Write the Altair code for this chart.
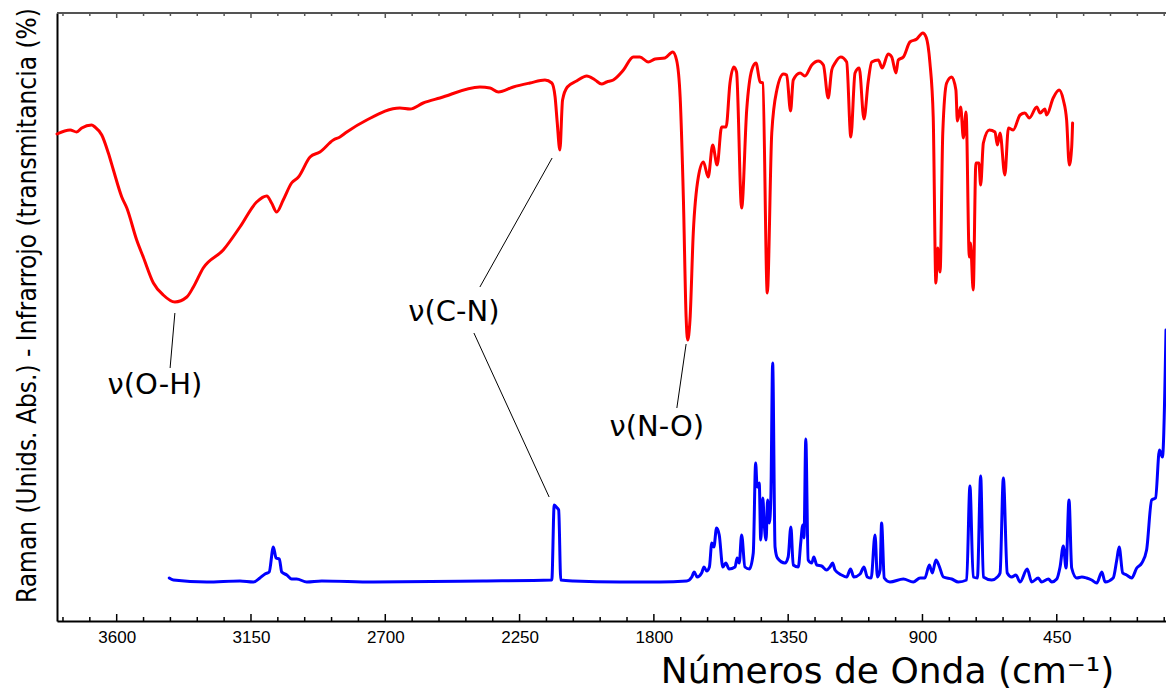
import altair as alt
import pandas as pd

# ---------------- data ----------------
# Infrared spectrum (transmittance, arbitrary vertical units)
ir_wn = [3800, 3756, 3734, 3717, 3684, 3673, 3650, 3628, 3611, 3583, 3566, 3533, 3511, 3477,
         3444, 3405, 3365, 3343, 3310, 3243, 3187, 3131, 3097, 3081, 3064, 3042, 3014, 2991,
         2952, 2919, 2874, 2852, 2829, 2762, 2651, 2617, 2573, 2517, 2383, 2349, 2321, 2271,
         2215, 2165, 2142, 2131, 2124, 2115, 2106, 2090, 2059, 2025, 1997, 1975, 1958, 1936,
         1902, 1869, 1847, 1819, 1796, 1763, 1737, 1724, 1712, 1701, 1692, 1687, 1679, 1668,
         1651, 1634, 1618, 1603, 1588, 1573, 1558, 1545, 1532, 1523, 1506, 1489, 1472, 1458,
         1444, 1435, 1420, 1405, 1388, 1366, 1355, 1342, 1333, 1310, 1294, 1271, 1249, 1232,
         1216, 1204, 1193, 1174, 1154, 1140, 1126, 1112, 1096, 1082, 1070, 1048, 1035, 1015,
         1003, 989, 981, 964, 942, 919, 899, 888, 875, 864, 855, 849, 841, 832, 819, 802, 788,
         783, 772, 763, 754, 743, 739, 730, 721, 711, 705, 696, 676, 657, 649, 640, 624, 612,
         596, 573, 557, 542, 517, 506, 490, 484, 462, 442, 428, 417, 408, 400, 397]
ir_val = [487, 491, 489, 493, 496, 494, 486, 468, 451, 424, 413, 381, 364, 338,
          326, 319, 324, 334, 353, 371, 394, 419, 425, 418, 409, 421, 438, 444,
          464, 469, 481, 484, 489, 501, 513, 512, 518, 523, 534, 533, 529, 534,
          538, 541, 538, 524, 499, 471, 521, 534, 540, 545, 541, 537, 539, 541,
          551, 564, 564, 559, 562, 563, 569, 561, 524, 421, 304, 281, 301, 388,
          444, 459, 444, 476, 456, 494, 494, 538, 554, 549, 413, 511, 551, 558,
          539, 538, 328, 488, 531, 547, 546, 510, 541, 548, 545, 556, 560, 556,
          523, 551, 558, 564, 559, 484, 548, 553, 502, 539, 559, 561, 553, 567,
          564, 548, 561, 564, 579, 582, 588, 584, 558, 504, 338, 373, 349, 488, 538, 544, 531,
          500, 514, 483, 509, 364, 378, 331, 458, 458, 436, 478, 491, 489, 476, 488, 446, 493,
          491, 506, 508, 503, 514, 508, 512, 506, 523, 531, 521, 501, 456, 474, 498]

# Raman spectrum (absorbance-like arbitrary units)
raman_wn = [3424, 3410, 3298, 3187, 3142, 3120, 3103, 3089, 3075, 3066, 3055, 3047, 3030, 3014,
            2997, 2963, 2913, 2740, 2372, 2142, 2134, 2124, 2119, 2112, 2070, 1914, 1780, 1690,
            1673, 1665, 1655, 1640, 1632, 1623, 1614, 1606, 1599, 1590, 1581, 1569, 1559, 1548,
            1528, 1521, 1514, 1506, 1495, 1480, 1467, 1459, 1454, 1447, 1442, 1435, 1430, 1424,
            1419, 1413, 1408, 1402, 1394, 1386, 1361, 1350, 1341, 1333, 1316, 1308, 1301, 1297,
            1291, 1283, 1271, 1264, 1254, 1238, 1221, 1210, 1201, 1193, 1171, 1154, 1141, 1130,
            1109, 1096, 1085, 1072, 1059, 1051, 1042, 1037, 1028, 1009, 964, 931, 908, 892, 877,
            867, 855, 844, 830, 802, 780, 752, 741, 730, 716, 705, 696, 668, 649, 640, 629, 616,
            601, 587, 573, 549, 534, 512, 501, 478, 467, 450, 439, 428, 419, 409, 400, 383, 366,
            350, 333, 316, 299, 288, 261, 249, 241, 229, 216, 199, 182, 165, 149, 132, 119, 106,
            96, 84]
raman_val = [43, 41, 39, 40, 39, 43, 47, 49, 74, 63, 62, 49, 46, 42,
             42, 39, 40, 39, 40, 41, 116, 113, 111, 41, 40, 39, 39, 40,
             44, 49, 44, 48, 54, 50, 54, 78, 74, 93, 86, 54, 58, 52,
             54, 63, 58, 86, 54, 52, 68, 158, 134, 138, 81, 123, 96, 81,
             121, 98, 124, 258, 74, 63, 58, 64, 94, 56, 54, 78, 96, 83,
             182, 61, 58, 64, 56, 55, 51, 54, 58, 51, 46, 44, 52, 44,
             47, 54, 44, 43, 86, 44, 51, 98, 43, 39, 42, 39, 43, 43, 56,
             48, 61, 55, 44, 42, 39, 41, 135, 44, 43, 145, 44, 41, 44, 48, 143, 48,
             44, 46, 39, 52, 39, 43, 39, 42, 39, 42, 54, 75, 53, 121, 53, 43, 44,
             43, 41, 38, 49, 39, 43, 61, 74, 48, 46, 43, 53, 58, 71, 121, 123, 171,
             164, 291]

# axis ticks (cm-1)
major_ticks = [3600, 3150, 2700, 2250, 1800, 1350, 900, 450]
minor_ticks = [3780, 3690, 3510, 3420, 3330, 3240, 3060, 2970, 2880, 2790, 2610, 2520, 2430,
               2340, 2160, 2070, 1980, 1890, 1710, 1620, 1530, 1440, 1260, 1170, 1080, 990,
               810, 720, 630, 540, 360, 270, 180, 90]

# annotations
ann_labels = ["ν(O-H)", "ν(C-N)", "ν(N-O)"]
ann_wn = [3472, 2470, 1790]
ann_val = [236, 309, 194]
lead_wn = [3405, 2141, 2403, 1692]
lead_val = [308, 463, 288, 277]
lead_wn2 = [3421, 2383, 2151, 1723]
lead_val2 = [253, 334, 124, 213]

# ---------------- chart ----------------
W, H = 1109, 608
x_scale = alt.Scale(domain=[84, 3800], reverse=True, nice=False, zero=False)
y_scale = alt.Scale(domain=[0, 608], nice=False, zero=False)

x_axis = alt.Axis(values=major_ticks, format="d", ticks=False, grid=False,
                  domainColor="black", domainWidth=2,
                  labelFont="Liberation Sans", labelFontSize=17, labelColor="black",
                  labelPadding=8, labelFlush=False,
                  title="Números de Onda (cm⁻¹)", titleFont="DejaVu Sans", titleFontSize=36,
                  titleFontWeight="normal", titleColor="black",
                  titleX=830, titleY=61, titleBaseline="alphabetic", titleAlign="center")
y_axis = alt.Axis(ticks=False, labels=False, grid=False, domainColor="black", domainWidth=2,
                  title="Raman (Unids. Abs.) - Infrarrojo (transmitancia (%)",
                  titleFont="DejaVu Sans Condensed, Roboto Condensed, Liberation Sans Narrow, Arial Narrow",
                  titleFontSize=26, titleFontWeight="normal",
                  titleColor="black", titleAngle=270, titleX=-30, titleY=292,
                  titleAlign="center", titleBaseline="middle")

X = alt.X("wn:Q", scale=x_scale, axis=x_axis)
Y = alt.Y("val:Q", scale=y_scale, axis=y_axis)

ir_df = pd.DataFrame({"wn": ir_wn, "val": ir_val})
ra_df = pd.DataFrame({"wn": raman_wn, "val": raman_val})
major_df = pd.DataFrame({"wn": major_ticks})
minor_df = pd.DataFrame({"wn": minor_ticks})
ann_df = pd.DataFrame({"wn": ann_wn, "val": ann_val, "label": ann_labels})
lead_df = pd.DataFrame({"wn": lead_wn, "val": lead_val, "wn2": lead_wn2, "val2": lead_val2})

ir_line = alt.Chart(ir_df).mark_line(color="#ff0000", strokeWidth=3, strokeJoin="round",
                                     strokeCap="round", interpolate="monotone").encode(
    x=X, y=Y, order="wn:Q")
ra_line = alt.Chart(ra_df).mark_line(color="#0000ff", strokeWidth=3, strokeJoin="round",
                                     strokeCap="round", interpolate="monotone").encode(
    x=X, y=Y, order="wn:Q")

top_border = alt.Chart(major_df).mark_rule(color="#555555", strokeWidth=1.5).encode(
    x=alt.value(0), x2=alt.value(W), y=alt.value(0))

bot_major = alt.Chart(major_df).mark_rule(color="black", strokeWidth=1.5).encode(
    x=X, y=alt.value(H), y2=alt.value(H - 7))
bot_minor = alt.Chart(minor_df).mark_rule(color="black", strokeWidth=1.5).encode(
    x=X, y=alt.value(H), y2=alt.value(H - 4))
top_major = alt.Chart(major_df).mark_rule(color="#555555", strokeWidth=1.5).encode(
    x=X, y=alt.value(0), y2=alt.value(5))
top_minor = alt.Chart(minor_df).mark_rule(color="#555555", strokeWidth=1.5).encode(
    x=X, y=alt.value(0), y2=alt.value(3))

leaders = alt.Chart(lead_df).mark_rule(color="black", strokeWidth=1).encode(
    x=X, y=Y, x2="wn2:Q", y2="val2:Q")
labels = alt.Chart(ann_df).mark_text(font="DejaVu Sans", fontSize=29, color="black",
                                     align="center", baseline="middle").encode(
    x=X, y=Y, text="label:N")

chart = alt.layer(ir_line, ra_line, leaders, labels, bot_major, bot_minor, top_major,
                  top_minor, top_border).properties(
    width=W, height=H, autosize="none",
    padding={"left": 57, "top": 13, "right": 0, "bottom": 68},
).configure_view(stroke=None).configure(background="white")

chart.save("out.html", embed_options={"renderer": "svg", "actions": False})
